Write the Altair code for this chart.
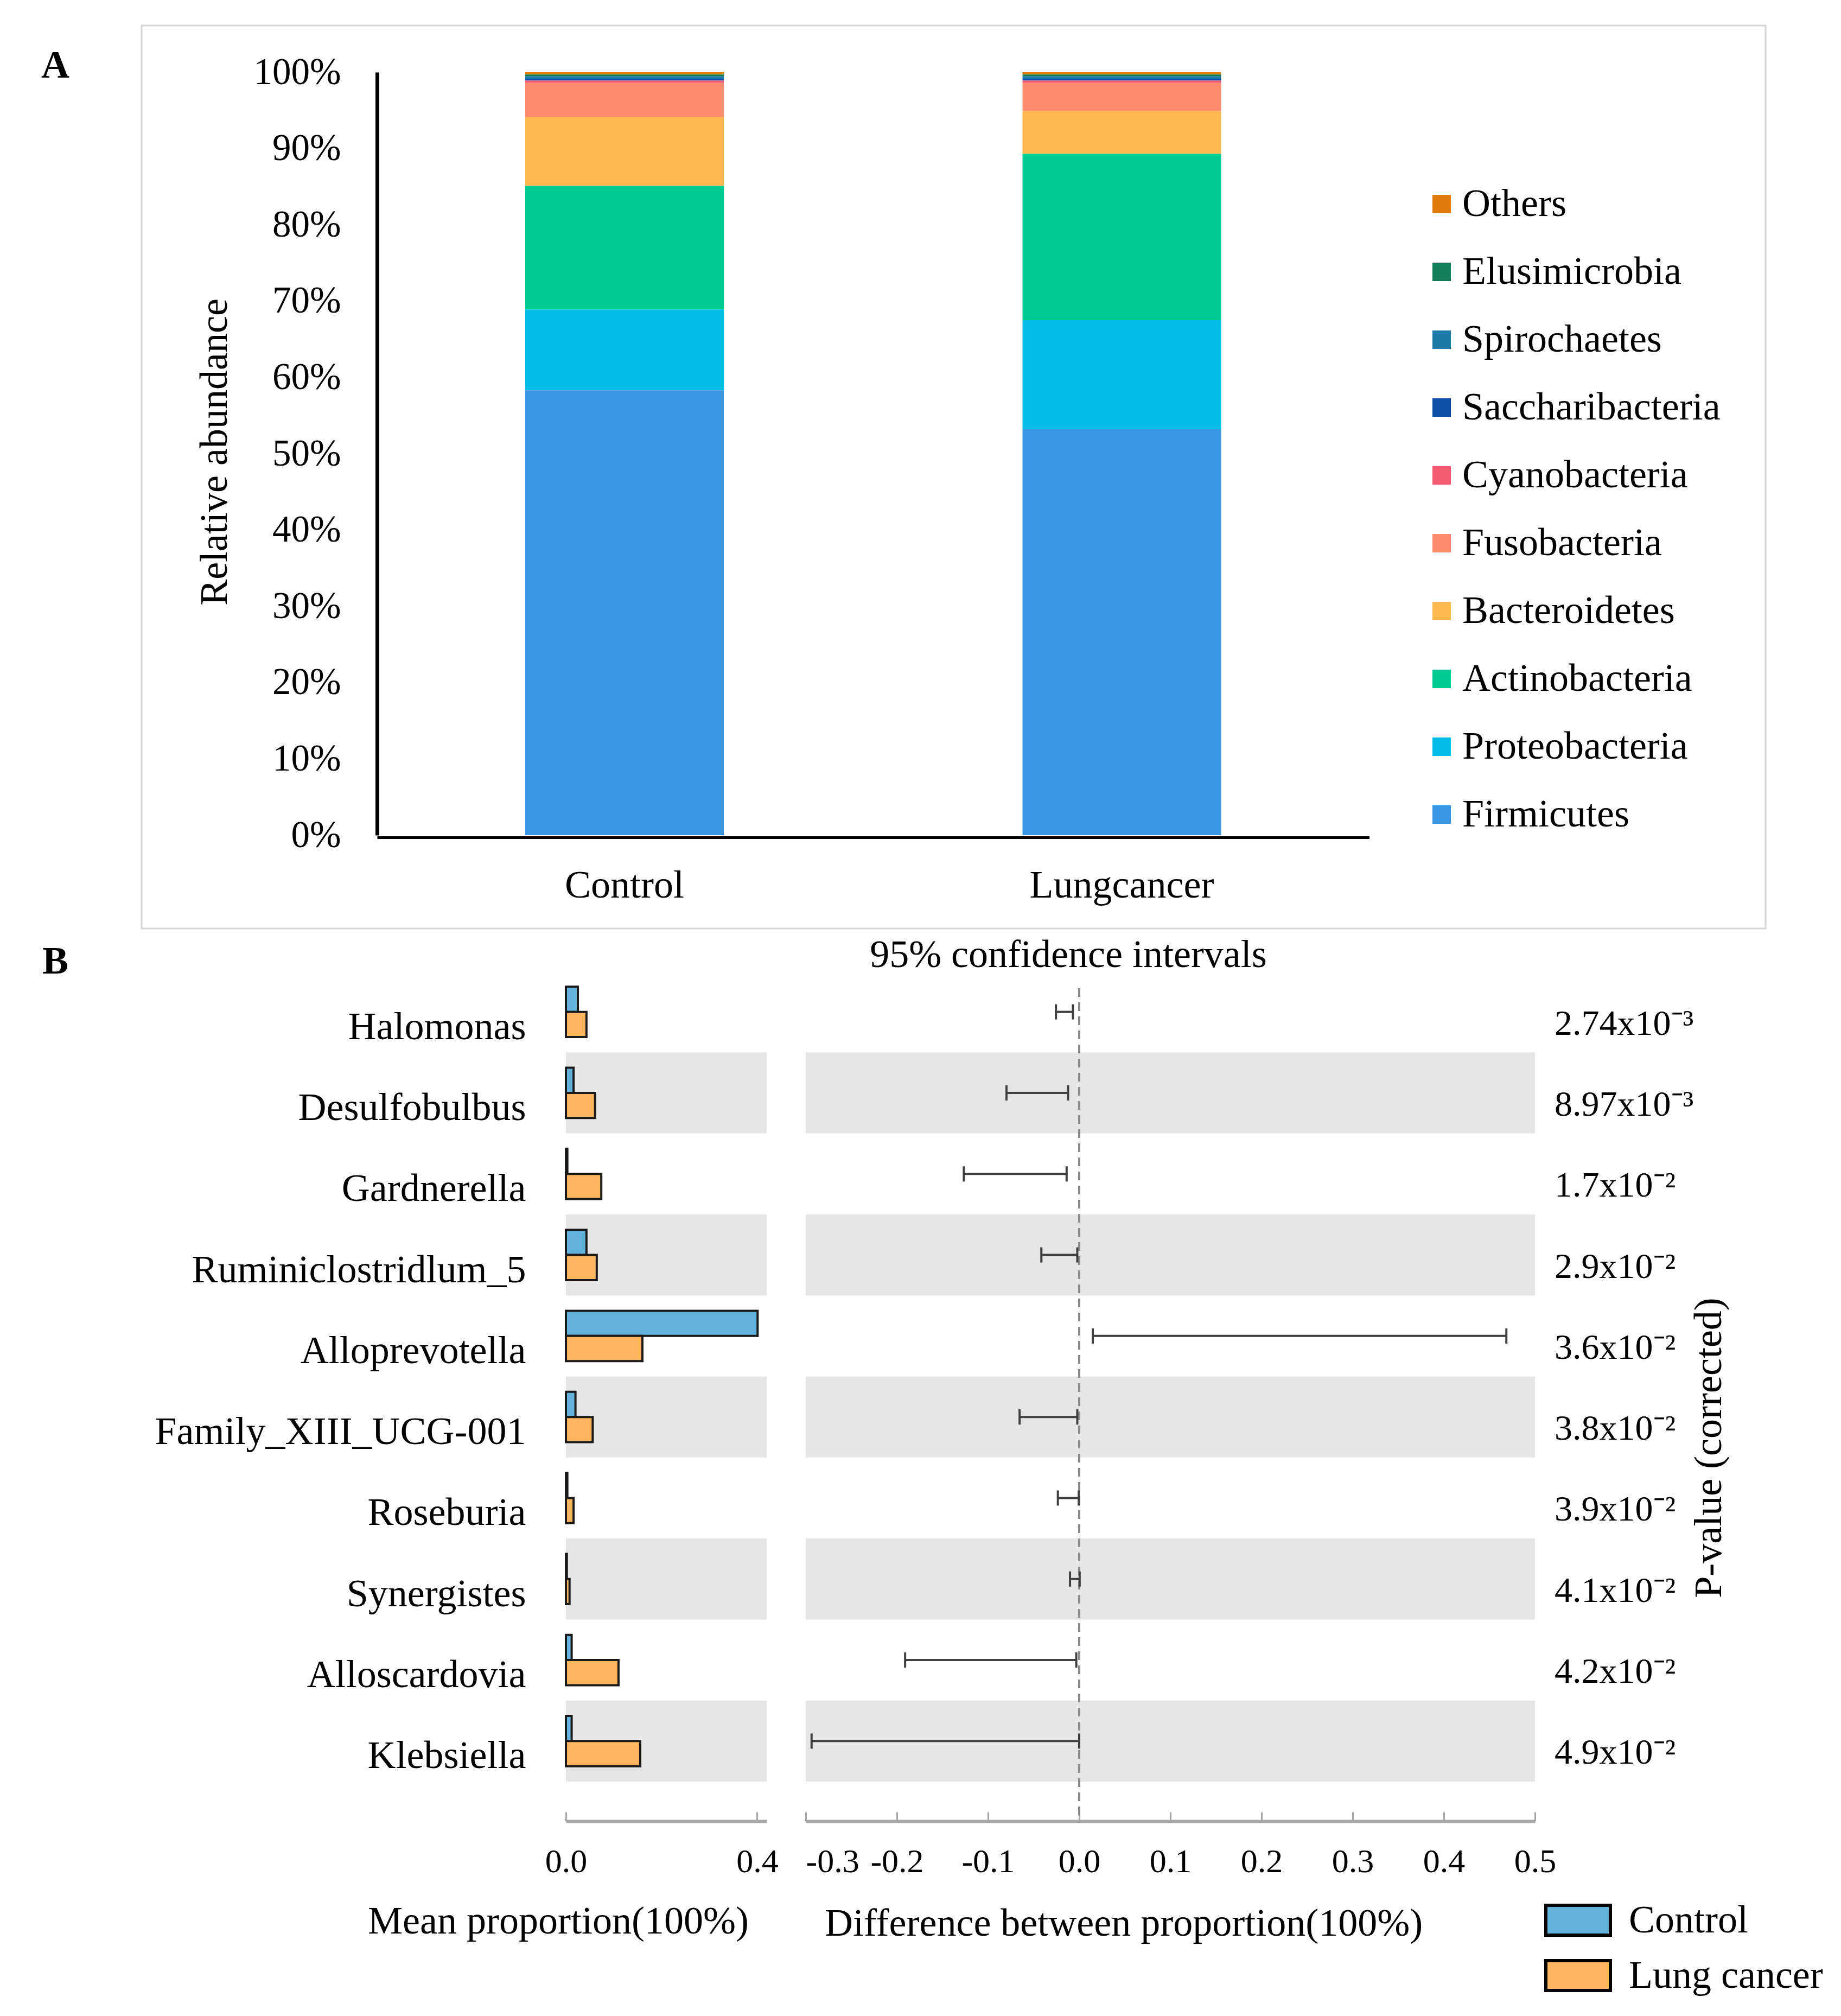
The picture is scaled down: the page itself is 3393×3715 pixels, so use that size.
import altair as alt
import pandas as pd

FONT = "Liberation Serif"
W, H = 3377, 3699

# ---------------- Panel A data ----------------
groups_a = ["Control", "Lungcancer"]
phyla = ["Others", "Elusimicrobia", "Spirochaetes", "Saccharibacteria", "Cyanobacteria",
         "Fusobacteria", "Bacteroidetes", "Actinobacteria", "Proteobacteria", "Firmicutes"]
phyla_colors = ["#df7a0c", "#117f57", "#1a79a6", "#0c4fa9", "#f45a70",
                "#fe8a6e", "#ffb94e", "#00c992", "#02bce7", "#3797e5"]
control_abundance = [0.3, 0.25, 0.3, 0.25, 0.3, 4.5, 9.0, 16.2, 10.6, 58.3]
lungcancer_abundance = [0.3, 0.25, 0.3, 0.25, 0.3, 3.7, 5.6, 21.8, 14.3, 53.2]
y_ticks_a = [0, 10, 20, 30, 40, 50, 60, 70, 80, 90, 100]

# ---------------- Panel B data ----------------
genera = ["Halomonas", "Desulfobulbus", "Gardnerella", "Ruminiclostridlum_5", "Alloprevotella",
          "Family_XIII_UCG-001", "Roseburia", "Synergistes", "Alloscardovia", "Klebsiella"]
mean_control = [0.025, 0.016, 0.003, 0.043, 0.401, 0.020, 0.003, 0.002, 0.012, 0.012]
mean_lung_cancer = [0.043, 0.061, 0.074, 0.0645, 0.160, 0.056, 0.016, 0.0076, 0.110, 0.1555]
ci_low = [-0.0255, -0.0798, -0.1266, -0.0415, 0.0149, -0.0654, -0.0234, -0.0101, -0.191, -0.2936]
ci_high = [-0.0069, -0.0122, -0.0138, -0.0021, 0.4686, -0.0021, -0.0005, 0.0005, -0.0032, 0.0]
p_values = ["2.74x10\u207b\u00b3", "8.97x10\u207b\u00b3", "1.7x10\u207b\u00b2", "2.9x10\u207b\u00b2",
            "3.6x10\u207b\u00b2", "3.8x10\u207b\u00b2", "3.9x10\u207b\u00b2", "4.1x10\u207b\u00b2",
            "4.2x10\u207b\u00b2", "4.9x10\u207b\u00b2"]
b_groups = ["Control", "Lung cancer"]
b_colors = ["#62b3dc", "#ffb45e"]
bar_domain = [0, 0.42]
bar_ticks = [0, 0.4]
ci_domain = [-0.3, 0.5]
ci_ticks = [-0.3, -0.2, -0.1, 0.0, 0.1, 0.2, 0.3, 0.4, 0.5]

# ---------------- Texts ----------------
txt_a = "A"
txt_b = "B"
txt_rel = "Relative abundance"
txt_ci = "95% confidence intervals"
txt_mean = "Mean proportion(100%)"
txt_diff = "Difference between proportion(100%)"
txt_p = "P-value (corrected)"

# ---------------- Tables ----------------
rows = []
for g, vals in zip(groups_a, [control_abundance, lungcancer_abundance]):
    for i, (p, v) in enumerate(zip(phyla, vals)):
        rows.append({"group": g, "phylum": p, "value": v, "stack": len(phyla) - 1 - i})
df_a = pd.DataFrame(rows)

rows = []
for g, c, l in zip(genera, mean_control, mean_lung_cancer):
    rows.append({"genus": g, "group": b_groups[0], "value": c})
    rows.append({"genus": g, "group": b_groups[1], "value": l})
df_b = pd.DataFrame(rows)

df_ci = pd.DataFrame({"genus": genera, "lo": ci_low, "hi": ci_high, "p": p_values})
band_rows = [g for i, g in enumerate(genera) if i % 2 == 1]
df_band = pd.DataFrame({"genus": band_rows,
                        "b0": bar_domain[0], "b1": bar_domain[1],
                        "c0": ci_domain[0], "c1": ci_domain[1]})
df_zero = pd.DataFrame({"z": [0.0]})
one = pd.DataFrame({"k": [0]})

# ---------------- Scales ----------------
xa_scale = alt.Scale(domain=groups_a, range=[687, 2515.5], paddingInner=0.6007, paddingOuter=0.2979)
ya_scale = alt.Scale(domain=[0, 100], range=[1531, 125], nice=False)
rows_scale = alt.Scale(domain=genera, range=[1782, 3275], paddingInner=0, paddingOuter=0)
barx_scale = alt.Scale(domain=bar_domain, range=[1035, 1405], nice=False, zero=False)
ci_scale = alt.Scale(domain=ci_domain, range=[1477, 2821], nice=False, zero=False)
AXIS_Y_B = 3348

# ---------------- Layers ----------------
border = alt.Chart(one).mark_rect(fillOpacity=0, stroke="#d4d4d4", strokeWidth=3).encode(
    x=alt.value(253), x2=alt.value(3246), y=alt.value(39), y2=alt.value(1703))

bars_a = alt.Chart(df_a).mark_bar().encode(
    x=alt.X("group:N", scale=xa_scale, sort=groups_a,
            axis=alt.Axis(orient="bottom", offset=1535 - H, domainColor="black", domainWidth=5,
                          ticks=False, tickSize=0, labelPadding=53, labelFontSize=72, labelAngle=0,
                          title=None)),
    y=alt.Y("value:Q", stack="zero", scale=ya_scale,
            axis=alt.Axis(orient="left", offset=-687, values=y_ticks_a, labelExpr="datum.value + '%'",
                          domainColor="black", domainWidth=7, ticks=False, tickSize=0,
                          labelPadding=67, labelFontSize=69, title=None)),
    color=alt.Color("phylum:N", scale=alt.Scale(domain=phyla, range=phyla_colors),
                    legend=alt.Legend(orient="none", legendX=2613, legendY=332, title=None,
                                      symbolType="square", symbolSize=1156, symbolStrokeWidth=0,
                                      labelFontSize=72, rowPadding=53, labelOffset=2, padding=0,
                                      labelLimit=1500, labelFont=FONT, labelColor="black")),
    order=alt.Order("stack:Q", sort="ascending"),
)

bands_bar = alt.Chart(df_band).mark_rect(color="#e6e6e6").encode(
    y=alt.Y("genus:N", scale=rows_scale, axis=None),
    x=alt.X("b0:Q", scale=barx_scale,
            axis=alt.Axis(orient="top", offset=-AXIS_Y_B, labels=False, ticks=True, tickSize=17,
                          tickColor="#a6a6a6", tickWidth=3, domain=True, domainColor="#a6a6a6",
                          domainWidth=6, values=bar_ticks, title=None)),
    x2="b1:Q",
)

bands_ci = alt.Chart(df_band).mark_rect(color="#e6e6e6").encode(
    y=alt.Y("genus:N", scale=rows_scale, axis=None),
    x=alt.X("c0:Q", scale=ci_scale,
            axis=alt.Axis(orient="top", offset=-AXIS_Y_B, labels=False, ticks=True, tickSize=17,
                          tickColor="#a6a6a6", tickWidth=3, domain=True, domainColor="#a6a6a6",
                          domainWidth=6, values=ci_ticks, title=None)),
    x2="c1:Q",
)

zero_line = alt.Chart(df_zero).mark_rule(color="#8c8c8c", strokeWidth=4, strokeDash=[16, 10]).encode(
    x=alt.X("z:Q", scale=ci_scale, axis=None),
    y=alt.value(1813), y2=alt.value(AXIS_Y_B))

ci_rules = alt.Chart(df_ci).mark_rule(color="#404040", strokeWidth=4).encode(
    x=alt.X("lo:Q", scale=ci_scale,
            axis=alt.Axis(orient="bottom", offset=AXIS_Y_B - H, domain=False, ticks=False, tickSize=0,
                          labelPadding=44, values=ci_ticks, format=".1f",
                          labelExpr="replace(datum.label, '\u2212', '-')",
                          labelFontSize=62, labelFlush=False,
                          labelAlign={"condition": {"test": "datum.value < -0.25", "value": "left"},
                                      "value": "center"},
                          title=None)),
    x2="hi:Q",
    y=alt.Y("genus:N", scale=rows_scale, axis=None),
)

ci_caps = alt.Chart(df_ci).transform_fold(["lo", "hi"], as_=["end", "v"]).mark_tick(
    color="#404040", thickness=4, size=28, opacity=1).encode(
    x=alt.X("v:Q", scale=ci_scale, axis=None),
    y=alt.Y("genus:N", scale=rows_scale, axis=None),
)

bars_b = alt.Chart(df_b).mark_bar(stroke="#1a1a1a", strokeWidth=4).encode(
    y=alt.Y("genus:N", scale=rows_scale,
            axis=alt.Axis(orient="left", offset=-1035, domain=False, ticks=False, tickSize=0,
                          labelPadding=74, labelOffset=28, labelFontSize=72, title=None)),
    yOffset=alt.YOffset("group:N", sort=b_groups,
                        scale=alt.Scale(domain=b_groups, paddingInner=0, paddingOuter=0.61)),
    x=alt.X("value:Q", scale=barx_scale,
            axis=alt.Axis(orient="bottom", offset=AXIS_Y_B - H, domain=False, ticks=False, tickSize=0,
                          labelPadding=44, values=bar_ticks, format=".1f", labelFontSize=62,
                          labelFlush=False, title=None)),
    color=alt.Color("group:N", scale=alt.Scale(domain=b_groups, range=b_colors),
                    legend=alt.Legend(orient="none", legendX=2838, legendY=3468, title=None,
                                      symbolType="M-1,-0.462L1,-0.462L1,0.462L-1,0.462Z",
                                      symbolSize=14161, symbolStrokeColor="black",
                                      symbolStrokeWidth=6, labelFontSize=72, rowPadding=0,
                                      labelOffset=31, padding=0, labelLimit=1500,
                                      labelFont=FONT, labelColor="black")),
)

pvals = alt.Chart(df_ci).mark_text(align="left", baseline="middle", dy=22, fontSize=66,
                                   font=FONT, color="black").encode(
    y=alt.Y("genus:N", scale=rows_scale, axis=None),
    x=alt.value(2857),
    text="p:N",
)


def text_layer(txt, x, y, size=72, angle=None, weight="normal"):
    kw = dict(text=txt, fontSize=size, font=FONT, color="black", align="center",
              baseline="middle", fontWeight=weight)
    if angle is not None:
        kw["angle"] = angle
    return alt.Chart(one).mark_text(**kw).encode(x=alt.value(x), y=alt.value(y))


texts = [
    text_layer(txt_a, 94, 113, size=72, weight="bold"),
    text_layer(txt_b, 94, 1764, size=72, weight="bold"),
    text_layer(txt_rel, 388, 825, angle=270),
    text_layer(txt_ci, 1961, 1752),
    text_layer(txt_mean, 1021, 3533),
    text_layer(txt_diff, 2063, 3537),
    text_layer(txt_p, 3142, 2660, angle=270),
]

chart = alt.layer(
    border, bars_a, bands_bar, bands_ci, zero_line, ci_rules, ci_caps, bars_b, pvals, *texts
).resolve_scale(
    x="independent", y="independent", color="independent"
).properties(
    width=W, height=H, autosize=alt.AutoSizeParams(type="none"), padding=0, background="white"
).configure_view(
    stroke=None
).configure_axis(
    grid=False, labelFont=FONT, titleFont=FONT, labelColor="black", labelLimit=3000, labelOverlap=False
).configure_legend(
    labelFont=FONT
).configure_text(
    font=FONT
)

chart.save("out.html", embed_options={"renderer": "svg", "actions": False})
